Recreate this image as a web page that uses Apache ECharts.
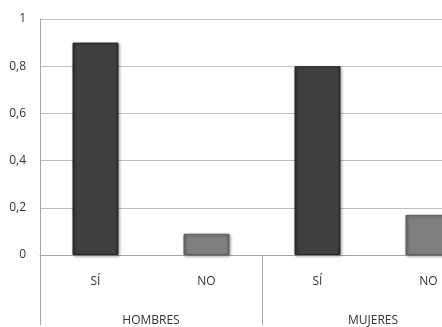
<!DOCTYPE html>
<html>
<head>
<meta charset="utf-8">
<style>
  html, body { margin: 0; padding: 0; background: #ffffff; overflow: hidden; }
  #wrap { width: 442px; height: 327px; overflow: hidden; }
  #chart { width: 484px; height: 327px; }
</style>
<script src="https://cdn.jsdelivr.net/npm/echarts@6/dist/echarts.min.js"></script>
</head>
<body>
<div id="wrap"><div id="chart"></div></div>
<script>
// Answer categories and their groups
const answers = ['SÍ', 'NO', 'SÍ', 'NO'];
const groups = ['HOMBRES', 'MUJERES'];
const values = [0.9, 0.09, 0.8, 0.17];
const barColors = ['#404040', '#7f7f7f', '#404040', '#7f7f7f'];
const yTicks = [0, 0.2, 0.4, 0.6, 0.8, 1];

const FONT = '"Open Sans", "Noto Sans", sans-serif';

function bevel(base) {
  const edge = base === '#404040' ? '#2e2e2e' : '#6a6a6a';
  return {
    type: 'linear', x: 0, y: 0, x2: 1, y2: 0,
    colorStops: [
      { offset: 0, color: edge },
      { offset: 0.08, color: base },
      { offset: 0.92, color: base },
      { offset: 1, color: edge }
    ]
  };
}

const chart = echarts.init(document.getElementById('chart'), null, { renderer: 'canvas' });

chart.setOption({
  animation: false,
  backgroundColor: '#ffffff',
  grid: { left: 40, right: 0, top: 19, bottom: 70 },
  xAxis: [
    {
      type: 'category',
      data: answers,
      position: 'bottom',
      axisLine: { show: true, lineStyle: { color: '#a6a6a6', width: 1 } },
      axisTick: { show: false },
      axisLabel: { margin: 21, fontFamily: FONT, fontSize: 12, color: '#333333' }
    },
    {
      type: 'category',
      data: groups,
      position: 'bottom',
      axisLine: { show: false },
      axisTick: { show: true, length: 70, lineStyle: { color: '#a6a6a6', width: 1 } },
      axisLabel: { margin: 60, fontFamily: FONT, fontSize: 12, color: '#333333' }
    }
  ],
  yAxis: {
    type: 'value',
    min: yTicks[0],
    max: yTicks[yTicks.length - 1],
    interval: 0.2,
    axisLine: { show: true, lineStyle: { color: '#a6a6a6', width: 1 } },
    axisTick: { show: false },
    splitLine: { show: true, lineStyle: { color: '#bfbfbf', width: 1 } },
    axisLabel: {
      margin: 14,
      fontFamily: FONT,
      fontSize: 12,
      color: '#333333',
      formatter: v => String(Math.round(v * 10) / 10).replace('.', ',')
    }
  },
  series: [{
    type: 'bar',
    xAxisIndex: 0,
    barWidth: 46,
    data: values.map((v, i) => ({
      value: v,
      itemStyle: {
        color: bevel(barColors[i]),
        borderColor: barColors[i] === '#404040' ? '#262626' : '#5f5f5f',
        borderWidth: 1,
        shadowColor: 'rgba(0,0,0,0.35)',
        shadowBlur: 3,
        shadowOffsetX: 1,
        shadowOffsetY: 1
      }
    }))
  }]
});
</script>
</body>
</html>
